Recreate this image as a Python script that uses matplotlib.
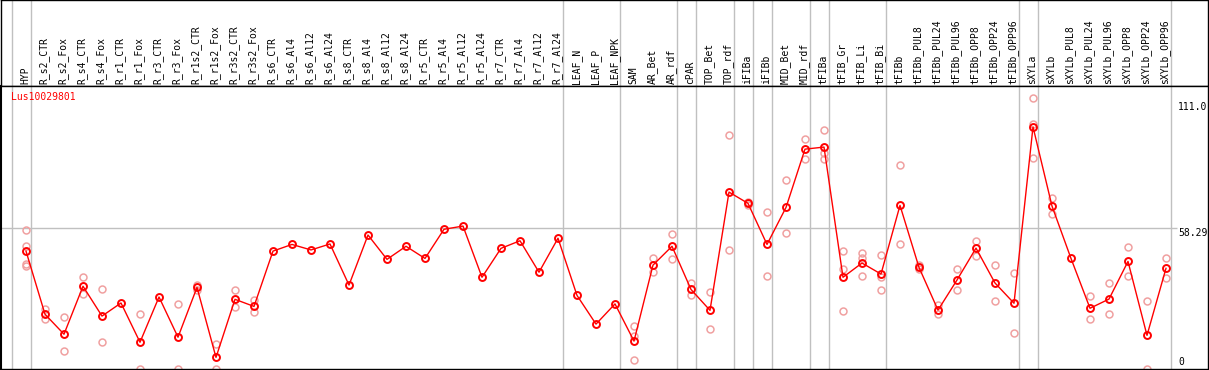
import numpy as np
import matplotlib.pyplot as plt

labels = ['HYP', 'R_s2_CTR', 'R_s2_Fox', 'R_s4_CTR', 'R_s4_Fox', 'R_r1_CTR', 'R_r1_Fox',
          'R_r3_CTR', 'R_r3_Fox', 'R_r1s2_CTR', 'R_r1s2_Fox', 'R_r3s2_CTR', 'R_r3s2_Fox',
          'R_s6_CTR', 'R_s6_Al4', 'R_s6_Al12', 'R_s6_Al24', 'R_s8_CTR', 'R_s8_Al4',
          'R_s8_Al12', 'R_s8_Al24', 'R_r5_CTR', 'R_r5_Al4', 'R_r5_Al12', 'R_r5_Al24',
          'R_r7_CTR', 'R_r7_Al4', 'R_r7_Al12', 'R_r7_Al24', 'LEAF_N', 'LEAF_P', 'LEAF_NPK',
          'SAM', 'AR_Bet', 'AR_rdf', 'cPAR', 'TOP_Bet', 'TOP_rdf', 'iFIBa', 'iFIBb',
          'MID_Bet', 'MID_rdf', 'tFIBa', 'tFIB_Gr', 'tFIB_Li', 'tFIB_Bi', 'tFIBb',
          'tFIBb_PUL8', 'tFIBb_PUL24', 'tFIBb_PUL96', 'tFIBb_OPP8', 'tFIBb_OPP24',
          'tFIBb_OPP96', 'sXYLa', 'sXYLb', 'sXYLb_PUL8', 'sXYLb_PUL24', 'sXYLb_PUL96',
          'sXYLb_OPP8', 'sXYLb_OPP24', 'sXYLb_OPP96']

means = [48.3, 20.8, 12.1, 33.0, 20.0, 25.7, 8.6, 28.3, 10.8, 32.5, 2.0, 27.3, 24.2,
         48.3, 51.2, 48.8, 51.4, 33.5, 55.3, 44.7, 50.4, 45.1, 57.8, 59.2, 36.9,
         49.5, 52.8, 39.1, 53.9, 29.0, 16.5, 25.3,
         9.1, 42.2, 50.4, 31.6, 22.5, 74.0, 69.1, 51.2, 67.3, 92.7, 93.6,
         36.9, 43.1, 38.3, 68.2, 41.2, 22.6, 35.7, 49.6, 34.4, 25.6,
         102.4, 67.9, 45.1, 23.4, 27.4, 43.8, 11.6, 40.8]

reps = [[57.3, 50.5, 42.5, 41.7], [23.2, 18.6], [19.5, 4.7], [36.9, 29.5], [31.6, 8.6],
        [], [20.8, -3.2], [], [25.1, -3.2], [33.5, 31.3], [7.7, -3.2], [31.3, 23.8],
        [27.1, 21.6],
        [], [], [], [], [], [], [], [], [], [], [], [], [], [], [], [],
        [], [], [],
        [15.5, 11.5, 0.7], [45.3, 39.1], [55.6, 44.7], [34.4, 29.0], [30.5, 14.4],
        [98.7, 48.6], [69.8, 68.5], [65.2, 37.3], [79.1, 56.0], [97.0, 88.2],
        [100.9, 90.9, 88.2],
        [48.2, 40.4, 22.2], [47.3, 45.1, 37.3], [46.5, 36.9, 31.2], [85.6, 51.2],
        [42.2, 40.5], [24.7, 20.8], [40.4, 31.3], [52.5, 46.3], [42.2, 26.6], [38.6, 12.5],
        [114.8, 103.6, 88.7], [71.4, 64.3], [], [28.7, 18.7], [34.4, 20.9], [50.1, 37.4],
        [26.6, -3.2], [45.3, 36.4]]

group_sizes = [1, 28, 3, 3, 1, 2, 1, 1, 2, 1, 3, 7, 1, 7]
gene = 'Lus10029801'
ymax_label = 111.0
ymid_label = 58.29

W, H = 1209, 370
fig = plt.figure(figsize=(W / 100, H / 100), dpi=100)
fnt = dict(family='DejaVu Sans Mono', fontsize=7)

# column i sits at pixel 26 + 19*i
x0 = (1 - 26) / 19
x1 = (1208 - 26) / 19
xs = np.arange(len(labels))
bounds = np.concatenate([[-1], np.cumsum(group_sizes) - 1]) + 0.25

"""
header with rotated labels
"""
hax = fig.add_axes([1 / W, (H - 86) / H, 1207 / W, 86 / H])
hax.set_xlim(x0, x1)
hax.set_ylim(86, 0)
for b in bounds:
    hax.axvline(b, color='#c0c0c0', lw=1)
for i, lab in enumerate(labels):
    hax.text(i - 0.05, 84, lab, rotation=90, ha='center', va='bottom', color='black', **fnt)
hax.set_xticks([])
hax.set_yticks([])
for s in hax.spines.values():
    s.set_color('black')
    s.set_linewidth(1)

"""
main plot
"""
ax = fig.add_axes([1 / W, 1 / H, 1207 / W, 283 / H])
ax.set_xlim(x0, x1)
ax.set_ylim(-3.05, 120.2)
for b in bounds:
    ax.axvline(b, color='#c0c0c0', lw=1, zorder=1)
ax.hlines(ymid_label, x0, (1177 - 26) / 19, color='#c0c0c0', lw=1, zorder=1)

for i, r in enumerate(reps):
    if r:
        ax.plot([i] * len(r), r, 'o', ms=5, mfc='none', mec='#f0a0a0', mew=1.1,
                zorder=2, clip_on=True)
ax.plot(xs, means, '-', color='red', lw=1, zorder=3)
ax.plot(xs, means, 'o', ms=5, mfc='none', mec='red', mew=1.4, zorder=4)

ax.text(10 / 1207, 1 - 11 / 283, gene, transform=ax.transAxes, color='red',
        ha='left', va='center', **fnt)
lx = (1178 - 26) / 19
ax.text(lx, ymax_label, '{:.1f}'.format(ymax_label), ha='left', va='center', **fnt)
ax.text(lx, ymid_label, '{}'.format(ymid_label), ha='left', va='top', **fnt)
ax.text(lx, 0, '0', ha='left', va='center', **fnt)

ax.set_xticks([])
ax.set_yticks([])
for s in ax.spines.values():
    s.set_color('black')
    s.set_linewidth(1)
ax.spines['left'].set_linewidth(1.5)

fig.savefig('out.png', dpi=100)
